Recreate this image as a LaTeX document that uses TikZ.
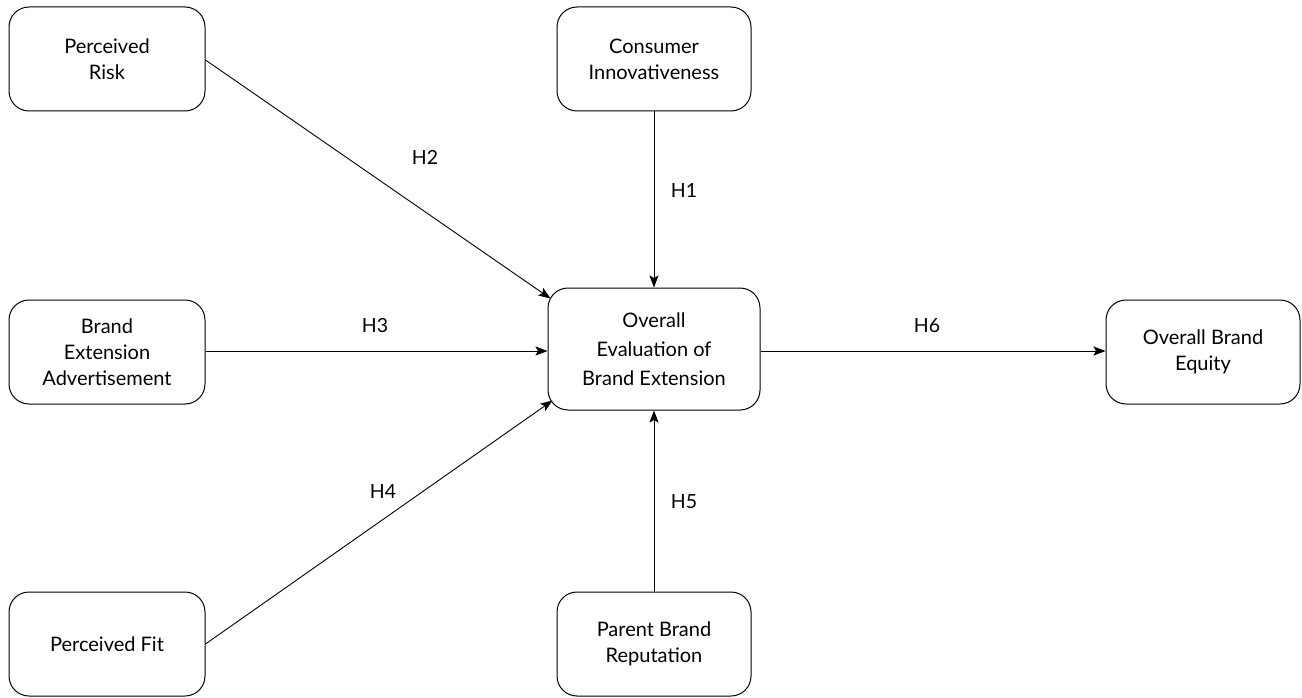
\documentclass[tikz,border=0pt]{standalone}
\usepackage{fontspec}
\setmainfont{Lato}
\usetikzlibrary{arrows.meta}
\begin{document}
\begin{tikzpicture}[x=1pt,y=-1pt,
  box/.style={draw, line width=1pt, rounded corners=20pt, align=center, font=\fontsize{20}{26}\selectfont, inner sep=0pt},
  conn/.style={line width=0.9pt, -{Stealth[length=12pt,width=9pt,inset=2.5pt]}},
  lab/.style={font=\fontsize{19.5}{23}\selectfont}]
\useasboundingbox (0,0) rectangle (1302,698);
\node[box, minimum width=196pt, minimum height=104pt] (pr) at (107,59) {Perceived\\Risk};
\node[box, minimum width=194pt, minimum height=104pt] (ci) at (654,59) {Consumer\\Innovativeness};
\node[box, minimum width=212pt, minimum height=122pt, font=\fontsize{20}{29}\selectfont] (ev) at (654,349) {Overall\\Evaluation of\\Brand Extension};
\node[box, minimum width=196pt, minimum height=104pt] (ba) at (107,352) {Brand\\Extension\\Advertisement};
\node[box, minimum width=194pt, minimum height=104pt] (be) at (1203,352) {Overall Brand\\Equity};
\node[box, minimum width=196pt, minimum height=104pt] (pf) at (107,644) {Perceived Fit};
\node[box, minimum width=194pt, minimum height=104pt] (pb) at (654,644) {Parent Brand\\Reputation};
\coordinate (e2) at ([xshift=3pt,yshift=-11pt]ev.north west);
\coordinate (e4) at ([xshift=5pt,yshift=10pt]ev.south west);
\coordinate (e3) at ([yshift=-2pt]ev.west);
\coordinate (s6) at ([yshift=-2pt]ev.east);
\draw[conn] ([yshift=-1pt]pr.east) -- (e2);
\draw[conn] (ci.south) -- (ev.north);
\draw[conn] (ba.east |- e3) -- (e3);
\draw[conn] (pf.east) -- (e4);
\draw[conn] (pb.north) -- (ev.south);
\draw[conn] (s6) -- (be.west |- s6);
\node[lab] (h2) at (425,157) {H2};
\node[lab] (h1) at (684,190) {H1};
\node[lab] (h3) at (375,326) {H3};
\node[lab] (h6) at (927,326) {H6};
\node[lab] (h4) at (383,492) {H4};
\node[lab] (h5) at (684,502) {H5};
\end{tikzpicture}
\end{document}
